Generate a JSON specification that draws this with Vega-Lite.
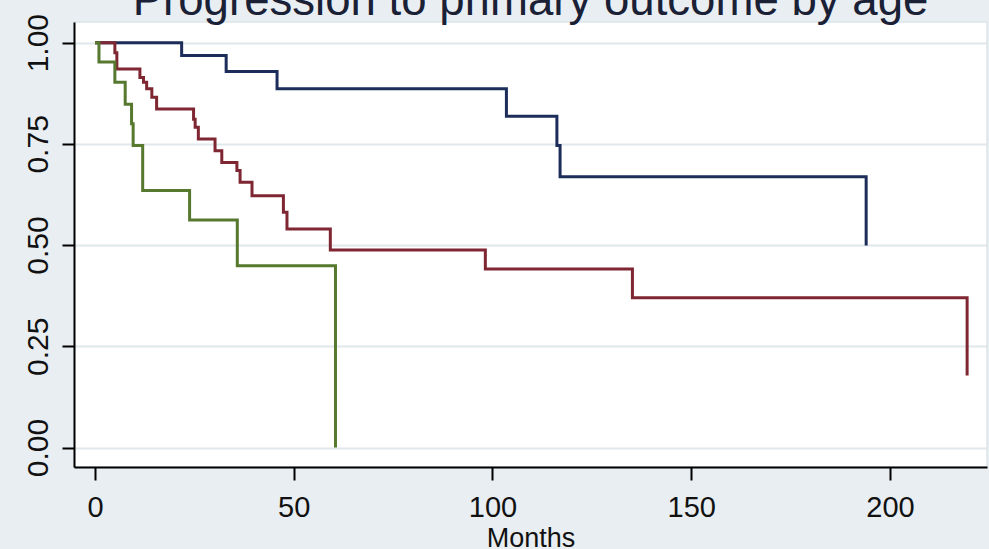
{
  "$schema": "https://vega.github.io/schema/vega-lite/v6.json",
  "width": 913,
  "height": 445,
  "autosize": {"type": "none"},
  "padding": {"left": 74, "top": 22, "right": 2, "bottom": 82},
  "background": "#e8eef1",
  "view": {"fill": "white", "stroke": "#dde5e9", "strokeWidth": 1.5},
  "title": {
    "text": "Progression to primary outcome by age",
    "fontSize": 45.6,
    "font": "Liberation Sans",
    "fontWeight": "normal",
    "color": "#1a2035",
    "anchor": "middle",
    "baseline": "alphabetic",
    "offset": 0,
    "dy": 47
  },
  "data": {
    "values": [
      {"group": "Group 1", "months": 0, "survival": 1},
      {"group": "Group 1", "months": 21.8, "survival": 0.968},
      {"group": "Group 1", "months": 33.0, "survival": 0.929},
      {"group": "Group 1", "months": 45.8, "survival": 0.886},
      {"group": "Group 1", "months": 103.5, "survival": 0.818},
      {"group": "Group 1", "months": 116.2, "survival": 0.746},
      {"group": "Group 1", "months": 117.0, "survival": 0.669},
      {"group": "Group 1", "months": 194.0, "survival": 0.499},
      {"group": "Group 2", "months": 0, "survival": 1},
      {"group": "Group 2", "months": 5.0, "survival": 0.975},
      {"group": "Group 2", "months": 5.5, "survival": 0.935},
      {"group": "Group 2", "months": 11.3, "survival": 0.914},
      {"group": "Group 2", "months": 12.2, "survival": 0.902},
      {"group": "Group 2", "months": 13.0, "survival": 0.886},
      {"group": "Group 2", "months": 14.3, "survival": 0.865},
      {"group": "Group 2", "months": 15.5, "survival": 0.836},
      {"group": "Group 2", "months": 24.8, "survival": 0.811},
      {"group": "Group 2", "months": 25.2, "survival": 0.791},
      {"group": "Group 2", "months": 26.0, "survival": 0.762},
      {"group": "Group 2", "months": 30.2, "survival": 0.733},
      {"group": "Group 2", "months": 31.9, "survival": 0.704},
      {"group": "Group 2", "months": 35.7, "survival": 0.684},
      {"group": "Group 2", "months": 36.5, "survival": 0.655},
      {"group": "Group 2", "months": 39.5, "survival": 0.622},
      {"group": "Group 2", "months": 47.4, "survival": 0.581},
      {"group": "Group 2", "months": 48.3, "survival": 0.540},
      {"group": "Group 2", "months": 59.2, "survival": 0.488},
      {"group": "Group 2", "months": 98.2, "survival": 0.441},
      {"group": "Group 2", "months": 135.2, "survival": 0.370},
      {"group": "Group 2", "months": 219.4, "survival": 0.178},
      {"group": "Group 3", "months": 0, "survival": 1},
      {"group": "Group 3", "months": 1.0, "survival": 0.952},
      {"group": "Group 3", "months": 5.0, "survival": 0.902},
      {"group": "Group 3", "months": 7.6, "survival": 0.848},
      {"group": "Group 3", "months": 9.2, "survival": 0.800},
      {"group": "Group 3", "months": 9.6, "survival": 0.746},
      {"group": "Group 3", "months": 12.0, "survival": 0.635},
      {"group": "Group 3", "months": 23.8, "survival": 0.562},
      {"group": "Group 3", "months": 35.8, "survival": 0.449},
      {"group": "Group 3", "months": 60.5, "survival": 0.0}
    ]
  },
  "mark": {"type": "line", "interpolate": "step-after", "strokeWidth": 3},
  "encoding": {
    "x": {
      "field": "months",
      "type": "quantitative",
      "scale": {"domain": [-5.28, 224.4], "nice": false, "zero": false},
      "axis": {
        "values": [0, 50, 100, 150, 200],
        "title": "Months",
        "grid": false,
        "domainColor": "#000000",
        "domainWidth": 2,
        "tickColor": "#000000",
        "tickWidth": 2,
        "tickSize": 13,
        "labelFont": "Liberation Sans",
        "labelFontSize": 29,
        "labelColor": "#111111",
        "labelPadding": 13,
        "labelFlush": false,
        "titleFont": "Liberation Sans",
        "titleFontSize": 27,
        "titleFontWeight": "normal",
        "titleColor": "#111111",
        "titlePadding": 3
      }
    },
    "y": {
      "field": "survival",
      "type": "quantitative",
      "scale": {"domain": [-0.048, 1.051], "nice": false, "zero": false},
      "axis": {
        "values": [0, 0.25, 0.5, 0.75, 1],
        "format": ".2f",
        "title": null,
        "grid": true,
        "gridColor": "#dfe8ec",
        "gridWidth": 2,
        "domainColor": "#000000",
        "domainWidth": 2,
        "tickColor": "#000000",
        "tickWidth": 2,
        "tickSize": 12,
        "labelAngle": -90,
        "labelAlign": "center",
        "labelBaseline": "alphabetic",
        "labelFont": "Liberation Sans",
        "labelFontSize": 30,
        "labelColor": "#111111",
        "labelPadding": 15,
        "labelFlush": false,
        "labelOverlap": false
      }
    },
    "color": {
      "field": "group",
      "type": "nominal",
      "scale": {"domain": ["Group 1", "Group 2", "Group 3"], "range": ["#1c2d5a", "#7e2632", "#56782f"]},
      "legend": null
    }
  }
}
